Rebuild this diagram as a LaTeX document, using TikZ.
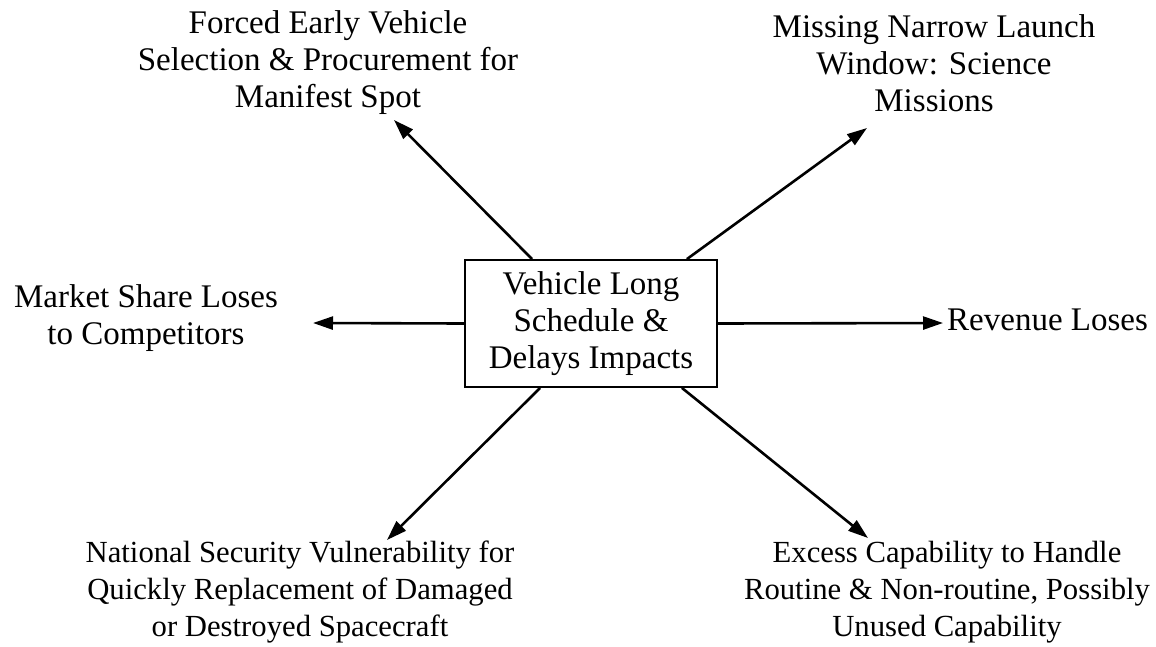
\documentclass[tikz,border=0pt]{standalone}
\usepackage{fontspec}
\setmainfont{Liberation Serif}
\usetikzlibrary{arrows.meta}
\begin{document}
\begin{tikzpicture}[x=1pt,y=-1pt,
  every node/.style={font=\fontsize{33}{37}\selectfont, inner sep=0pt},
  label/.style={align=center},
  smalllabel/.style={align=center, font=\fontsize{30.7}{36.7}\selectfont},
  hub/.style={draw, line width=1.8pt, minimum width=252pt, minimum height=127pt, align=center},
  impact/.style={line width=2.6pt, -{Triangle[length=20pt,width=13pt]}}]
  \useasboundingbox (0,0) rectangle (1156,646);

  % central cause
  \node[hub] (hub) at (591,323.5) {Vehicle Long\\Schedule \&\\Delays Impacts};

  % consequences
  \node[label] (forced) at (328,63) {Forced Early Vehicle\\Selection \& Procurement for\\Manifest Spot};
  \node[label] (window) at (934,63) {Missing Narrow Launch\\Window: Science\\Missions};
  \node[label] (market) at (146,318) {Market Share Loses\\to Competitors};
  \node[anchor=base west] (revenue) at (947,330) {Revenue Loses};
  \node[smalllabel] (security) at (300,592) {National Security Vulnerability for\\Quickly Replacement of Damaged\\or Destroyed Spacecraft};
  \node[smalllabel] (excess) at (947,592) {Excess Capability to Handle\\Routine \& Non-routine, Possibly\\Unused Capability};

  % arrow tips
  \coordinate (tForced) at (394,120);
  \coordinate (tWindow) at (867,128);
  \coordinate (tMarket) at (313,323);
  \coordinate (tRevenue) at (943,323);
  \coordinate (tSecurity) at (387,540);
  \coordinate (tExcess) at (868,538);

  \draw[impact] ([xshift=68pt]hub.north west) -- (tForced);
  \draw[impact] ([xshift=-31pt]hub.north east) -- (tWindow);
  \draw[impact] (hub.west) -- (tMarket);
  \draw[impact] (hub.east) -- (tRevenue);
  \draw[impact] ([xshift=76pt]hub.south west) -- (tSecurity);
  \draw[impact] ([xshift=-36pt]hub.south east) -- (tExcess);
\end{tikzpicture}
\end{document}
